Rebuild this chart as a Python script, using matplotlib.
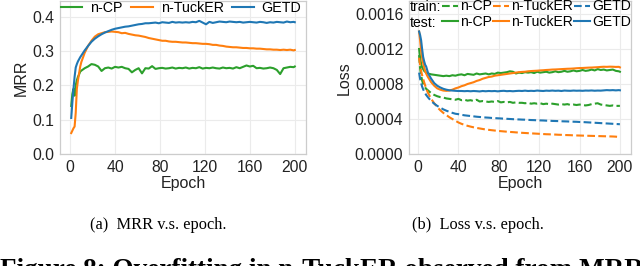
import numpy as np
import matplotlib
matplotlib.use('Agg')
import matplotlib.pyplot as plt

plt.rcParams['font.family'] = ['Liberation Sans', 'DejaVu Sans']

epochs = [1, 2, 3, 4, 5, 6, 7, 8, 9, 10,
          13, 16, 19, 22, 25, 28, 31, 34, 37, 40,
          43, 46, 49, 52, 55, 58, 61, 64, 67, 70,
          73, 76, 79, 82, 85, 88, 91, 94, 97, 100,
          103, 106, 109, 112, 115, 118, 121, 124, 127, 130,
          133, 136, 139, 142, 145, 148, 151, 154, 157, 160,
          163, 166, 169, 172, 175, 178, 181, 184, 187, 190,
          193, 196, 199, 200]

# (a) MRR
mrr_ncp = [0.14, 0.175, 0.19, 0.17, 0.2, 0.215, 0.225, 0.232, 0.24, 0.243,
           0.25, 0.255, 0.262, 0.26, 0.255, 0.242, 0.25, 0.252, 0.249, 0.254,
           0.252, 0.254, 0.25, 0.248, 0.238, 0.245, 0.25, 0.235, 0.25, 0.249,
           0.256, 0.248, 0.25, 0.251, 0.249, 0.25, 0.252, 0.249, 0.251, 0.25,
           0.252, 0.249, 0.251, 0.25, 0.253, 0.249, 0.251, 0.25, 0.252, 0.25,
           0.249, 0.252, 0.25, 0.251, 0.249, 0.253, 0.25, 0.254, 0.258, 0.255,
           0.257, 0.25, 0.251, 0.249, 0.25, 0.252, 0.25, 0.245, 0.233, 0.25,
           0.252, 0.254, 0.253, 0.255]
mrr_ntucker = [0.061, 0.068, 0.075, 0.08, 0.12, 0.19, 0.215, 0.235, 0.255, 0.268,
               0.295, 0.315, 0.33, 0.342, 0.349, 0.352, 0.355, 0.356, 0.357, 0.356,
               0.355, 0.352, 0.353, 0.35, 0.348, 0.346, 0.345, 0.343, 0.341, 0.338,
               0.336, 0.334, 0.332, 0.33, 0.33, 0.328, 0.327, 0.327, 0.326, 0.325,
               0.325, 0.324, 0.323, 0.323, 0.322, 0.321, 0.321, 0.32, 0.318, 0.318,
               0.316, 0.315, 0.313, 0.312, 0.311, 0.311, 0.31, 0.309, 0.309, 0.308,
               0.308, 0.307, 0.307, 0.306, 0.305, 0.305, 0.304, 0.304, 0.303, 0.304,
               0.303, 0.304, 0.302, 0.303]
mrr_getd = [0.105, 0.15, 0.19, 0.225, 0.252, 0.262, 0.27, 0.276, 0.282, 0.287,
            0.302, 0.315, 0.327, 0.336, 0.343, 0.349, 0.354, 0.358, 0.362, 0.365,
            0.367, 0.369, 0.371, 0.372, 0.374, 0.376, 0.378, 0.379, 0.381, 0.381,
            0.382, 0.383, 0.381, 0.384, 0.383, 0.382, 0.385, 0.383, 0.384, 0.383,
            0.384, 0.383, 0.385, 0.384, 0.388, 0.383, 0.378, 0.385, 0.382, 0.384,
            0.386, 0.385, 0.384, 0.386, 0.385, 0.384, 0.385, 0.383, 0.384, 0.385,
            0.384, 0.383, 0.385, 0.384, 0.382, 0.384, 0.383, 0.385, 0.384, 0.383,
            0.386, 0.384, 0.385, 0.384]

# (b) Loss, in units of 1e-4
test_ncp = [12.0, 11.0, 10.3, 9.9, 9.7, 9.5, 9.4, 9.3, 9.25, 9.2,
            9.1, 9.05, 9.0, 8.95, 8.9, 8.95, 8.9, 9.0, 8.95, 9.05,
            9.1, 9.0, 9.15, 9.1, 9.05, 9.2, 9.1, 9.15, 9.2, 9.1,
            9.2, 9.15, 9.3, 9.25, 9.3, 9.35, 9.45, 9.4, 9.2, 9.3,
            9.25, 9.35, 9.3, 9.35, 9.25, 9.4, 9.3, 9.35, 9.4, 9.3,
            9.35, 9.45, 9.35, 9.4, 9.5, 9.4, 9.45, 9.55, 9.45, 9.5,
            9.6, 9.5, 9.55, 9.65, 9.55, 9.7, 9.6, 9.65, 9.55, 9.6,
            9.65, 9.5, 9.45, 9.4]
test_ntucker = [14.0, 13.0, 11.8, 11.0, 10.4, 9.9, 9.5, 9.2, 8.95, 8.75,
                8.2, 7.8, 7.5, 7.35, 7.25, 7.22, 7.25, 7.35, 7.5, 7.6,
                7.75, 7.85, 8.0, 8.1, 8.2, 8.35, 8.45, 8.6, 8.7, 8.8,
                8.85, 8.95, 9.0, 9.05, 9.1, 9.15, 9.2, 9.25, 9.3, 9.35,
                9.38, 9.4, 9.45, 9.48, 9.5, 9.52, 9.55, 9.57, 9.6, 9.62,
                9.65, 9.66, 9.68, 9.7, 9.72, 9.74, 9.75, 9.77, 9.8, 9.82,
                9.83, 9.85, 9.87, 9.88, 9.9, 9.92, 9.95, 9.97, 9.96, 9.98,
                9.97, 9.95, 9.96, 9.9]
test_getd = [14.0, 13.6, 13.0, 12.0, 11.1, 10.6, 10.2, 10.0, 9.6, 9.2,
             8.6, 8.1, 7.8, 7.6, 7.45, 7.35, 7.28, 7.25, 7.22, 7.2,
             7.2, 7.18, 7.2, 7.17, 7.2, 7.18, 7.15, 7.2, 7.17, 7.2,
             7.18, 7.2, 7.16, 7.2, 7.22, 7.18, 7.2, 7.17, 7.2, 7.22,
             7.2, 7.24, 7.2, 7.22, 7.2, 7.25, 7.22, 7.2, 7.24, 7.22,
             7.25, 7.22, 7.24, 7.2, 7.25, 7.23, 7.22, 7.25, 7.23, 7.24,
             7.22, 7.25, 7.24, 7.26, 7.23, 7.25, 7.24, 7.27, 7.3, 7.28,
             7.3, 7.27, 7.3, 7.28]
train_ncp = [11.3, 9.8, 9.0, 8.4, 8.0, 7.8, 7.6, 7.45, 7.35, 7.25,
             6.95, 6.75, 6.6, 6.5, 6.45, 6.35, 6.3, 6.25, 6.2, 6.3,
             6.15, 6.2, 6.1, 6.15, 6.05, 6.2, 6.0, 6.05, 6.0, 5.95,
             6.0, 5.95, 6.05, 5.9, 5.95, 5.9, 5.95, 5.85, 5.9, 5.85,
             5.85, 5.8, 5.85, 5.75, 5.8, 5.75, 5.8, 5.7, 5.75, 5.7,
             5.75, 5.7, 5.65, 5.7, 5.65, 5.7, 5.6, 5.65, 5.6, 5.65,
             5.6, 5.55, 5.6, 5.7, 5.75, 5.8, 5.65, 5.6, 5.55, 5.5,
             5.55, 5.5, 5.5, 5.5]
train_ntucker = [11.0, 10.2, 9.5, 9.0, 8.6, 8.2, 7.85, 7.5, 7.2, 6.95,
                 6.3, 5.8, 5.35, 5.0, 4.7, 4.45, 4.2, 4.0, 3.8, 3.6,
                 3.45, 3.33, 3.22, 3.13, 3.05, 2.98, 2.92, 2.86, 2.8, 2.76,
                 2.72, 2.68, 2.64, 2.61, 2.58, 2.55, 2.52, 2.5, 2.47, 2.45,
                 2.42, 2.4, 2.38, 2.36, 2.34, 2.32, 2.3, 2.28, 2.26, 2.25,
                 2.23, 2.22, 2.2, 2.19, 2.17, 2.16, 2.15, 2.13, 2.12, 2.11,
                 2.1, 2.09, 2.08, 2.07, 2.06, 2.05, 2.04, 2.03, 2.02, 2.01,
                 2.0, 1.98, 1.95, 1.95]
train_getd = [9.3, 8.6, 8.1, 7.7, 7.4, 7.15, 6.95, 6.75, 6.6, 6.45,
              6.05, 5.75, 5.5, 5.3, 5.1, 4.95, 4.82, 4.7, 4.6, 4.55,
              4.48, 4.42, 4.38, 4.34, 4.3, 4.26, 4.23, 4.2, 4.17, 4.15,
              4.12, 4.1, 4.08, 4.06, 4.04, 4.02, 4.0, 3.98, 3.96, 3.95,
              3.93, 3.92, 3.9, 3.88, 3.87, 3.85, 3.84, 3.83, 3.81, 3.8,
              3.78, 3.77, 3.76, 3.74, 3.73, 3.72, 3.7, 3.69, 3.68, 3.66,
              3.65, 3.63, 3.61, 3.59, 3.57, 3.55, 3.53, 3.51, 3.49, 3.47,
              3.45, 3.43, 3.41, 3.4]

names = ['n-CP', 'n-TuckER', 'GETD']
colors = ['#2ca02c', '#ff7f0e', '#1f77b4']
x_ticks = [0, 40, 80, 120, 160, 200]
mrr_ticks = [0.0, 0.1, 0.2, 0.3, 0.4]
mrr_tick_labels = ['0.0', '0.1', '0.2', '0.3', '0.4']
loss_ticks = [0.0, 0.0004, 0.0008, 0.0012, 0.0016]
loss_tick_labels = ['0.0000', '0.0004', '0.0008', '0.0012', '0.0016']

W, H = 640, 266
fig = plt.figure(figsize=(6.4, 2.66), dpi=100)
ax1 = fig.add_axes([60 / W, 1 - 154 / H, 246 / W, 152.7 / H])
ax2 = fig.add_axes([409 / W, 1 - 154 / H, 222 / W, 152.7 / H])


def style(ax):
    ax.grid(True, color='#ebebeb', lw=0.8)
    ax.set_axisbelow(True)
    for s in ax.spines.values():
        s.set_color('#cccccc')
        s.set_linewidth(0.9)
    ax.tick_params(length=0, labelsize=11.3, pad=4, colors='#222222')
    ax.set_xticks(x_ticks)
    ax.set_xlabel('Epoch', fontsize=11.5, labelpad=1, color='#222222')


# (a)
for vals, n, c in zip([mrr_ncp, mrr_ntucker, mrr_getd], names, colors):
    ax1.plot(epochs, vals, color=c, lw=1.5, label=n)
style(ax1)
ax1.set_xlim(-9, 210)
ax1.set_ylim(0, 0.445)
ax1.set_yticks(mrr_ticks)
ax1.set_yticklabels(mrr_tick_labels)
ax1.set_ylabel('MRR', fontsize=11.5, color='#222222')
ax1.yaxis.set_label_coords(-0.126, 0.5)
ax1.legend(loc='center left', bbox_to_anchor=(0.004, 0.955), ncol=3,
           frameon=False, fontsize=10.3, borderpad=0, borderaxespad=0,
           handlelength=1.5, handletextpad=0.55, columnspacing=0.6)

# (b)
train_h = []
test_h = []
for tr, te, n, c in zip([train_ncp, train_ntucker, train_getd],
                        [test_ncp, test_ntucker, test_getd], names, colors):
    h1, = ax2.plot(epochs, np.array(tr) * 1e-4, color=c, lw=1.5, ls='--', label=n)
    h2, = ax2.plot(epochs, np.array(te) * 1e-4, color=c, lw=1.5, label=n)
    train_h.append(h1)
    test_h.append(h2)
style(ax2)
ax2.set_xlim(-9, 211)
ax2.set_ylim(0, 0.001745)
ax2.set_yticks(loss_ticks)
ax2.set_yticklabels(loss_tick_labels)
ax2.set_ylabel('Loss', fontsize=11.5, color='#222222')
ax2.yaxis.set_label_coords(-0.257, 0.5)
hs = []
for a, b in zip(train_h, test_h):
    hs += [a, b]
ax2.legend(hs, [h.get_label() for h in hs], loc='upper left',
           bbox_to_anchor=(0.149, 1.012), ncol=3, frameon=False,
           fontsize=10.1, borderpad=0, borderaxespad=0, handlelength=1.15,
           handletextpad=0.12, columnspacing=0.1, labelspacing=0.12)
ax2.text(0.005, 0.963, 'train:', transform=ax2.transAxes, fontsize=10.1,
         va='center', ha='left')
ax2.text(0.005, 0.858, 'test:', transform=ax2.transAxes, fontsize=10.1,
         va='center', ha='left')

# captions
fig.text(158 / W, 1 - 225 / H, '(a)  MRR v.s. epoch.', ha='center', va='center',
         fontsize=11.8, family='Liberation Serif')
fig.text(478 / W, 1 - 225 / H, '(b)  Loss v.s. epoch.', ha='center', va='center',
         fontsize=11.8, family='Liberation Serif')
fig.text(0 / W, 1 - 277 / H, 'Figure 8: Overfitting in n-TuckER observed from MRR',
         ha='left', va='baseline', fontsize=19.5, fontweight='bold',
         family='Liberation Serif')

fig.savefig('out.png', dpi=100)
